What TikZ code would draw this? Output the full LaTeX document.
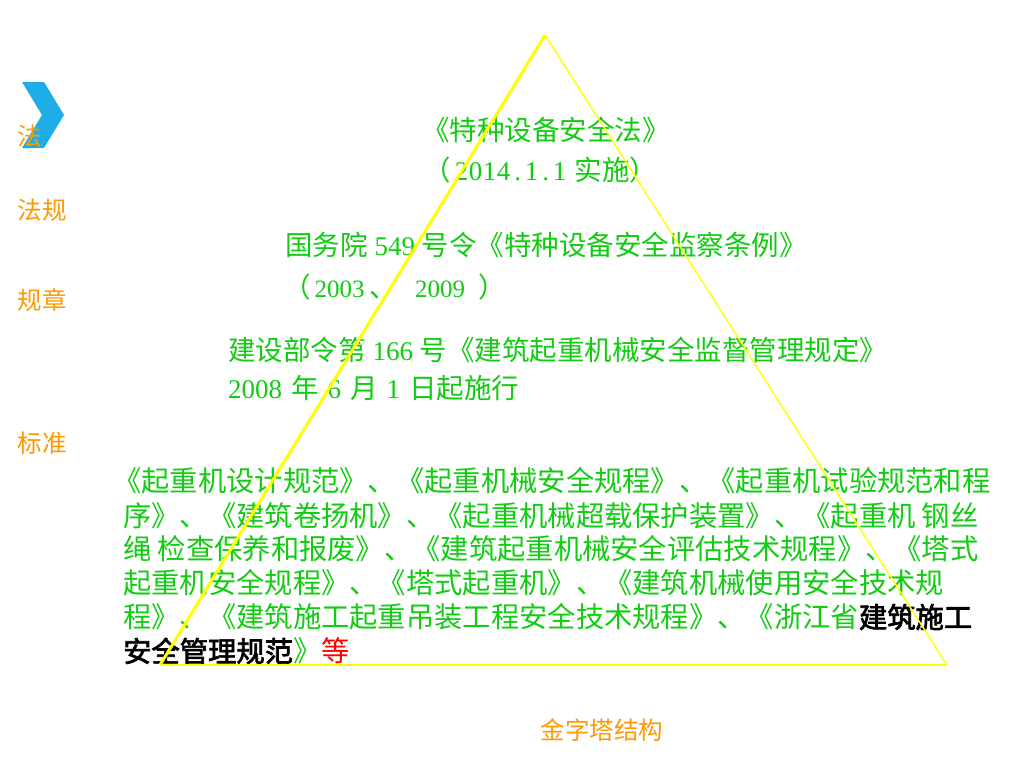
\documentclass[tikz,border=0pt]{standalone}
\usepackage{fontspec}
\setmainfont{Liberation Serif}
\newfontfamily\zhfont{Noto Sans CJK SC}[AutoFakeBold=2.5]
\newcommand\zhf[1]{{\zhfont #1}}
\newcommand\dg[1]{{\rmfamily\fontsize{27}{32}\selectfont #1}}
\newcommand\dgs[1]{{\rmfamily\fontsize{25}{30}\selectfont #1}}
\newcommand\mb[1]{\makebox[14pt]{\dg{#1}}}
\newcommand\gap{\hspace{9pt}}
\definecolor{lawgreen}{HTML}{11CC11}
\definecolor{lvorange}{HTML}{FF9900}
\definecolor{chevblue}{HTML}{1EADE6}
\definecolor{triyellow}{HTML}{FFFF00}
\tikzset{
  lvl/.style={text=lvorange, font=\zhfont\fontsize{24.5}{28}\selectfont, inner sep=0pt},
  top/.style={text=lawgreen, font=\fontsize{27.5}{32}\selectfont, inner sep=0pt, anchor=west},
  blk/.style={text=lawgreen, font=\zhfont\fontsize{28.3}{32}\selectfont, inner sep=0pt, anchor=west},
}
\begin{document}
\begin{tikzpicture}[x=1pt,y=-1pt]
\useasboundingbox[fill=white] (0,0) rectangle (1024,768);
% chevron
\fill[chevblue] (22,82) -- (44,82) -- (64,115) -- (44,148) -- (22,148) -- (42,115) -- cycle;
% level labels
\node[lvl] (fa) at (30,136) {法};
\node[lvl] (fagui) at (42,210) {法规};
\node[lvl] (guizhang) at (42,300) {规章};
\node[lvl] (biaozhun) at (42,443) {标准};
\node[lvl] (jzt) at (602,730) {金字塔结构};
% top texts
\node[top, anchor=center] (l1) at (546,130) {\zhf{《特种设备安全法》}};
\node[top] (l2) at (423,170) {\zhf{（}\hspace{4pt}\mb{2}\mb{0}\mb{1}\mb{4}\mb{.}\mb{1}\mb{.}\mb{1}\hspace{8pt}\zhf{实施）}};
\node[top] (l3) at (285,245) {\zhf{国务院} \dg{549} \zhf{号令《特种设备安全监察条例》}};
\node[top] (l4) at (283,287) {\zhf{（}\hspace{4pt}\dgs{2003}\hspace{5pt}\zhf{、}\hspace{18pt}\dgs{2009}\hspace{13pt}\zhf{）}};
\node[top] (l5) at (228,350) {\zhf{建设部令第} \dg{166} \zhf{号《建筑起重机械安全监督管理规定》}};
\node[top] (l6) at (228,388) {\dg{2008}\gap\zhf{年}\gap\dg{6}\gap\zhf{月}\gap\dg{1}\gap\zhf{日起施行}};
% standards block
\node[blk] (b1) at (113,481) {《起重机设计规范》、《起重机械安全规程》、《起重机试验规范和程};
\node[blk] (b2) at (123,516) {序》、《建筑卷扬机》、《起重机械超载保护装置》、《起重机 钢丝};
\node[blk] (b3) at (123,549) {绳 检查保养和报废》、《建筑起重机械安全评估技术规程》、《塔式};
\node[blk] (b4) at (123,583) {起重机安全规程》、《塔式起重机》、《建筑机械使用安全技术规};
\node[blk] (b5) at (123,617) {程》、《建筑施工起重吊装工程安全技术规程》、《浙江省{\color{black}\bfseries 建筑施工}};
\node[blk] (b6) at (123,651) {{\color{black}\bfseries 安全管理规范}》{\color{red}等}};
% pyramid
\coordinate (apex) at (545,35);
\coordinate (bl) at (160,665);
\coordinate (br) at (947,665);
\draw[triyellow, line width=3pt] (apex) -- (bl);
\draw[triyellow, line width=1.4pt] (apex) -- (br);
\draw[triyellow, line width=1.2pt] (bl) -- (br);
\end{tikzpicture}
\end{document}
